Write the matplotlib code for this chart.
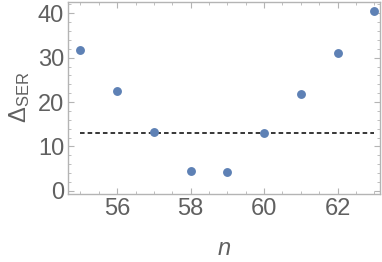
import matplotlib
matplotlib.use('Agg')
import matplotlib.pyplot as plt
from matplotlib.ticker import MultipleLocator

# data
n_values = [55, 56, 57, 58, 59, 60, 61, 62, 63]
delta_ser = [31.8, 22.4, 13.2, 4.4, 4.3, 13.1, 21.9, 31.0, 40.5]
threshold = 13.1
x_ticks = [56, 58, 60, 62]
y_ticks = [0, 10, 20, 30, 40]

plt.rcParams['font.family'] = ['Liberation Sans', 'DejaVu Sans']
plt.rcParams['mathtext.fontset'] = 'custom'
plt.rcParams['mathtext.rm'] = 'Liberation Sans'
plt.rcParams['mathtext.it'] = 'Liberation Sans:italic'

frame_col = '#b4b4b4'
text_col = '#606060'

fig = plt.figure(figsize=(3.82, 2.62), dpi=100)
ax = fig.add_axes([0.179, 0.26, 0.816, 0.733])

ax.plot([n_values[0], n_values[-1]], [threshold, threshold], color='black',
        linestyle=(0, (3, 2)), linewidth=1.1, zorder=2)
ax.plot(n_values, delta_ser, 'o', color='#5e81b5', markersize=6.4,
        markeredgewidth=0, zorder=3)

ax.set_xlim(54.67, 63.16)
ax.set_ylim(-0.68, 42.6)
ax.set_xticks(x_ticks)
ax.set_yticks(y_ticks)
ax.xaxis.set_minor_locator(MultipleLocator(0.5))
ax.yaxis.set_minor_locator(MultipleLocator(2))

ax.tick_params(which='both', direction='in', top=True, right=True,
               color=frame_col, labelcolor=text_col, labelsize=17, pad=3)
ax.tick_params(which='major', length=4.5, width=0.8)
ax.tick_params(which='minor', length=2.5, width=0.6)
for s in ax.spines.values():
    s.set_color(frame_col)
    s.set_linewidth(1.0)

ax.set_xlabel('$n$', fontsize=17, color=text_col, labelpad=13)
ax.set_ylabel(r'$\Delta_{\mathrm{SER}}$', fontsize=17, color=text_col, labelpad=4)

fig.savefig('out.png', dpi=100)
